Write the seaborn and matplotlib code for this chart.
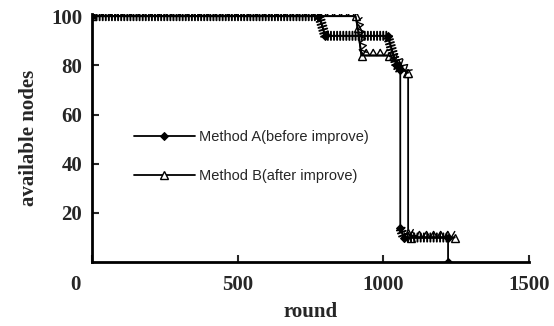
import numpy as np
import pandas as pd
import matplotlib
matplotlib.use("Agg")
import matplotlib.pyplot as plt
import matplotlib.transforms as mtransforms
import matplotlib.patheffects as pe
import seaborn as sns

# Step points (round, available nodes)
rounds_a = [0, 780, 800, 1015, 1045, 1058, 1058, 1070, 1222, 1222]
nodes_a = [100, 100, 92, 92, 80, 78, 14, 10, 10, 0]

rounds_b = [0, 905, 912, 925, 1020, 1050, 1080, 1085, 1085, 1095, 1245]
nodes_b = [100, 100, 95, 84, 84, 81, 77, 77, 12, 10, 10]

label_a = "Method A(before improve)"
label_b = "Method B(after improve)"

x_ticks = [0, 500, 1000, 1500]
y_ticks = [20, 40, 60, 80, 100]


# marker-dense look only on the parts that move along x; the drops stay thin
def dense_overlay(ax, xs, ys, fx):
    run = [0]
    for i in range(1, len(xs)):
        if xs[i] == xs[i - 1]:
            if len(run) > 1:
                sns.lineplot(x=[xs[j] for j in run], y=[ys[j] for j in run], ax=ax,
                             sort=False, estimator=None, color='black',
                             linewidth=1.3, path_effects=fx)
            run = [i]
        else:
            run.append(i)
    if len(run) > 1:
        sns.lineplot(x=[xs[j] for j in run], y=[ys[j] for j in run], ax=ax,
                     sort=False, estimator=None, color='black',
                     linewidth=1.3, path_effects=fx)


sns.set_style("ticks")
plt.rcParams['font.family'] = ['Liberation Serif', 'DejaVu Serif']

fig = plt.figure(figsize=(5.54, 3.26), dpi=100)
ax = fig.add_axes([0.166, 0.196, 0.789, 0.762])

# open triangles for B: zigzag ticks along the line
tri_fx = [pe.TickedStroke(spacing=5.0, angle=60, length=1.0, linewidth=1.0),
          pe.TickedStroke(spacing=5.0, angle=120, length=1.0, linewidth=1.0),
          pe.Normal()]
# filled markers for A: short ticks on both sides
dot_fx = [pe.TickedStroke(spacing=2.2, angle=90, length=1.35, linewidth=1.4),
          pe.TickedStroke(spacing=2.2, angle=-90, length=1.35, linewidth=1.4),
          pe.Normal()]

sns.lineplot(x=rounds_b, y=nodes_b, ax=ax, sort=False, estimator=None,
             color='black', linewidth=1.3, marker='^', markersize=6,
             markerfacecolor='white', markeredgecolor='black', markeredgewidth=1.0,
             label=label_b)
dense_overlay(ax, rounds_b, nodes_b, tri_fx)

sns.lineplot(x=rounds_a, y=nodes_a, ax=ax, sort=False, estimator=None,
             color='black', linewidth=1.3, marker='D', markersize=4.5,
             markerfacecolor='black', markeredgecolor='black',
             label=label_a)
dense_overlay(ax, rounds_a, nodes_a, dot_fx)

ax.set_xlim(0, 1500)
ax.set_ylim(0, 101)
ax.set_xticks(x_ticks)
ax.set_yticks(y_ticks)
ax.set_xticklabels([str(t) for t in x_ticks])
ax.set_yticklabels([str(t) for t in y_ticks])

for s in ['top', 'right']:
    ax.spines[s].set_visible(False)
for s in ['left', 'bottom']:
    ax.spines[s].set_linewidth(2.0)
    ax.spines[s].set_color('black')

ax.tick_params(axis='both', direction='in', length=5, width=1.5, labelsize=15)
ax.tick_params(axis='x', pad=9)
ax.tick_params(axis='y', pad=7)
for lbl in ax.get_xticklabels() + ax.get_yticklabels():
    lbl.set_fontweight('bold')

# origin label sits left of the corner
zero = ax.get_xticklabels()[0]
zero.set_transform(zero.get_transform() +
                   mtransforms.ScaledTranslation(-17 / 100, 0, fig.dpi_scale_trans))

ax.set_xlabel('round', fontsize=15, fontweight='bold', labelpad=5)
ax.set_ylabel('available nodes', fontsize=15, fontweight='bold', labelpad=9)

handles, labels = ax.get_legend_handles_labels()
order = [labels.index(label_a), labels.index(label_b)]
ax.legend([handles[i] for i in order], [labels[i] for i in order],
          loc='upper left', bbox_to_anchor=(0.065, 0.585), frameon=False,
          numpoints=1, handlelength=4.2, handletextpad=0.3, labelspacing=1.75,
          prop={'family': 'Liberation Sans', 'size': 10.5})

fig.savefig('out.png', dpi=100)
